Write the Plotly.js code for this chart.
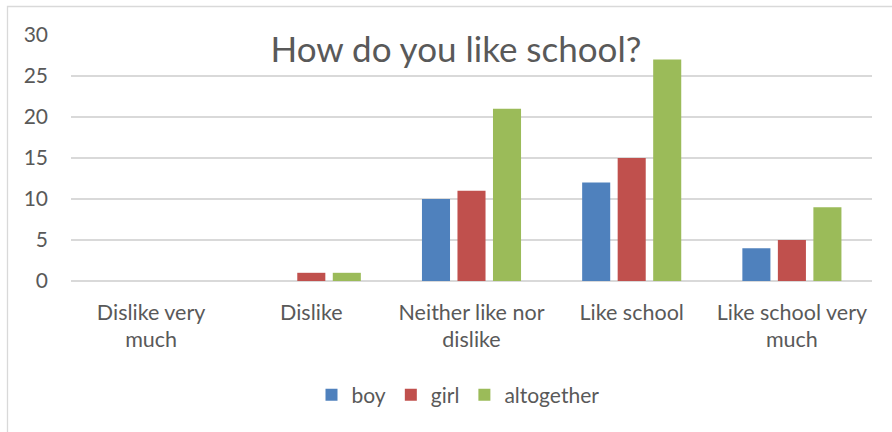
<!DOCTYPE html>
<html>
<head>
<meta charset="utf-8">
<script src="https://cdn.plot.ly/plotly-3.0.1.min.js"></script>
<style>
html,body{margin:0;padding:0;background:#fff;}
#chart{width:892px;height:432px;}
</style>
</head>
<body>
<div id="chart"></div>
<script>
const categories = ["Dislike very<br>much", "Dislike", "Neither like nor<br>dislike", "Like school", "Like school very<br>much"];
const boy = [0, 0, 10, 12, 4];
const girl = [0, 1, 11, 15, 5];
const altogether = [0, 1, 21, 27, 9];
const seriesNames = ["boy", "girl", "altogether"];
const yTicks = [0, 5, 10, 15, 20, 25, 30];

const colors = ["#4F81BD", "#C0504D", "#9BBB59"];
const FONT = "Lato, 'Open Sans', sans-serif";
const TXT = "#595959";

const data = [boy, girl, altogether].map((vals, i) => ({
  type: "bar",
  name: seriesNames[i],
  x: categories,
  y: vals,
  marker: {color: colors[i], line: {width: 0}},
  hoverinfo: "none"
}));

const L = 71, R = 872, T = 35, B = 281;
const W = 892, H = 432;
const pw = R - L, ph = B - T;
const px = v => (v - L) / pw;
const py = v => (B - v) / ph;

const layout = {
  width: W, height: H,
  margin: {l: L, r: W - R, t: T, b: H - B, pad: 0},
  paper_bgcolor: "#fff",
  plot_bgcolor: "#fff",
  font: {family: FONT, color: TXT, size: 21},
  barmode: "group",
  bargap: 0.335,
  bargroupgap: 0.21,
  title: {
    text: "How do you like school?",
    font: {family: FONT, size: 35, color: TXT},
    xref: "paper", x: px(456), xanchor: "center",
    yref: "container", y: 1 - 50 / H, yanchor: "middle"
  },
  xaxis: {
    type: "category",
    showgrid: false,
    showline: false,
    zeroline: false,
    ticks: "",
    ticklabelstandoff: 16,
    tickfont: {family: FONT, size: 21.5, color: TXT},
    fixedrange: true
  },
  yaxis: {
    range: [0, 30],
    tickvals: yTicks,
    ticktext: yTicks.map(String),
    showgrid: true,
    gridcolor: "#D9D9D9",
    gridwidth: 1.3,
    zeroline: true,
    zerolinecolor: "#D9D9D9",
    zerolinewidth: 1.3,
    showline: false,
    ticks: "",
    ticklabelstandoff: 22,
    tickfont: {family: FONT, size: 21, color: TXT},
    fixedrange: true
  },
  showlegend: true,
  legend: {
    orientation: "h",
    x: px(458), xanchor: "center",
    y: py(395), yanchor: "middle",
    font: {family: FONT, size: 21, color: TXT},
    itemwidth: 30,
    tracegroupgap: 0,
    bgcolor: "rgba(0,0,0,0)"
  },
  shapes: [{
    type: "rect", xref: "paper", yref: "paper",
    x0: px(7.5), x1: px(900), y0: py(445), y1: py(6.5),
    line: {color: "#D9D9D9", width: 1.3},
    fillcolor: "rgba(0,0,0,0)",
    layer: "below"
  }]
};

Plotly.newPlot("chart", data, layout, {displayModeBar: false, staticPlot: true});
</script>
</body>
</html>
